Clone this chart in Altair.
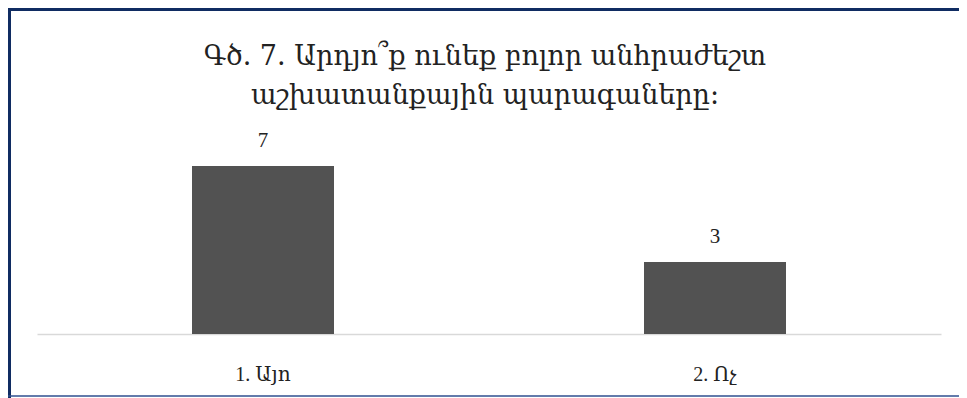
import altair as alt
import pandas as pd

categories = ["1. Այո", "2. Ոչ"]
values = [7, 3]
title_lines = ["Գծ. 7. Արդյո՞ք ունեք բոլոր անհրաժեշտ", "աշխատանքային պարագաները:"]

df = pd.DataFrame({"cat": categories, "val": values})

W, H = 904, 204
PL, PT, PR, PB = 29, 122, 18, 64
NAVY = "#102c62"

base = alt.Chart(df)

x_enc = alt.X("cat:N", sort=categories, title=None,
              scale=alt.Scale(paddingInner=0, paddingOuter=0),
              axis=alt.Axis(labelAngle=0, ticks=False, domainColor="#d9d9d9",
                            domainWidth=1.5, labelFont="Liberation Serif, DejaVu Serif",
                            labelFontSize=20, labelColor="#222222", labelPadding=30))
y_enc = alt.Y("val:Q", title=None, scale=alt.Scale(domain=[0, 8.5], nice=False), axis=None)

bars = base.mark_bar(size=142, color="#525252").encode(x=x_enc, y=y_enc)
labels = base.mark_text(font="Liberation Serif, DejaVu Serif", fontSize=21,
                        color="#222222", baseline="alphabetic", dy=-19).encode(
    x=alt.X("cat:N", sort=categories), y=alt.Y("val:Q", scale=alt.Scale(domain=[0, 8.5], nice=False)),
    text="val:Q")

one = pd.DataFrame({"a": [0]})
title1 = alt.Chart(one).mark_text(font="DejaVu Serif", fontSize=27, color="#222222",
                                  baseline="alphabetic", align="center").encode(
    x=alt.value(448), y=alt.value(-65), text=alt.value(title_lines[0]))
title2 = alt.Chart(one).mark_text(font="DejaVu Serif", fontSize=27, color="#222222",
                                  baseline="alphabetic", align="center").encode(
    x=alt.value(448), y=alt.value(-26), text=alt.value(title_lines[1]))

left_border = alt.Chart(one).mark_rule(color=NAVY, strokeWidth=4).encode(
    x=alt.value(-28), y=alt.value(-PT), y2=alt.value(H + PB))
top_border = alt.Chart(one).mark_rule(color=NAVY, strokeWidth=4).encode(
    x=alt.value(-PL), x2=alt.value(W + PR), y=alt.value(-PT + 1))
bottom_border = alt.Chart(one).mark_rule(color="#2f4f8f", strokeWidth=1.5).encode(
    x=alt.value(-PL), x2=alt.value(W + PR), y=alt.value(H + 62))

chart = alt.layer(bars, labels, title1, title2, left_border, top_border, bottom_border).properties(
    width=W, height=H,
    padding={"left": PL, "top": PT, "right": PR, "bottom": PB},
    autosize=alt.AutoSizeParams(type="none"),
).configure_view(stroke=None)

chart.save("out.html", embed_options={"renderer": "svg", "actions": False})
